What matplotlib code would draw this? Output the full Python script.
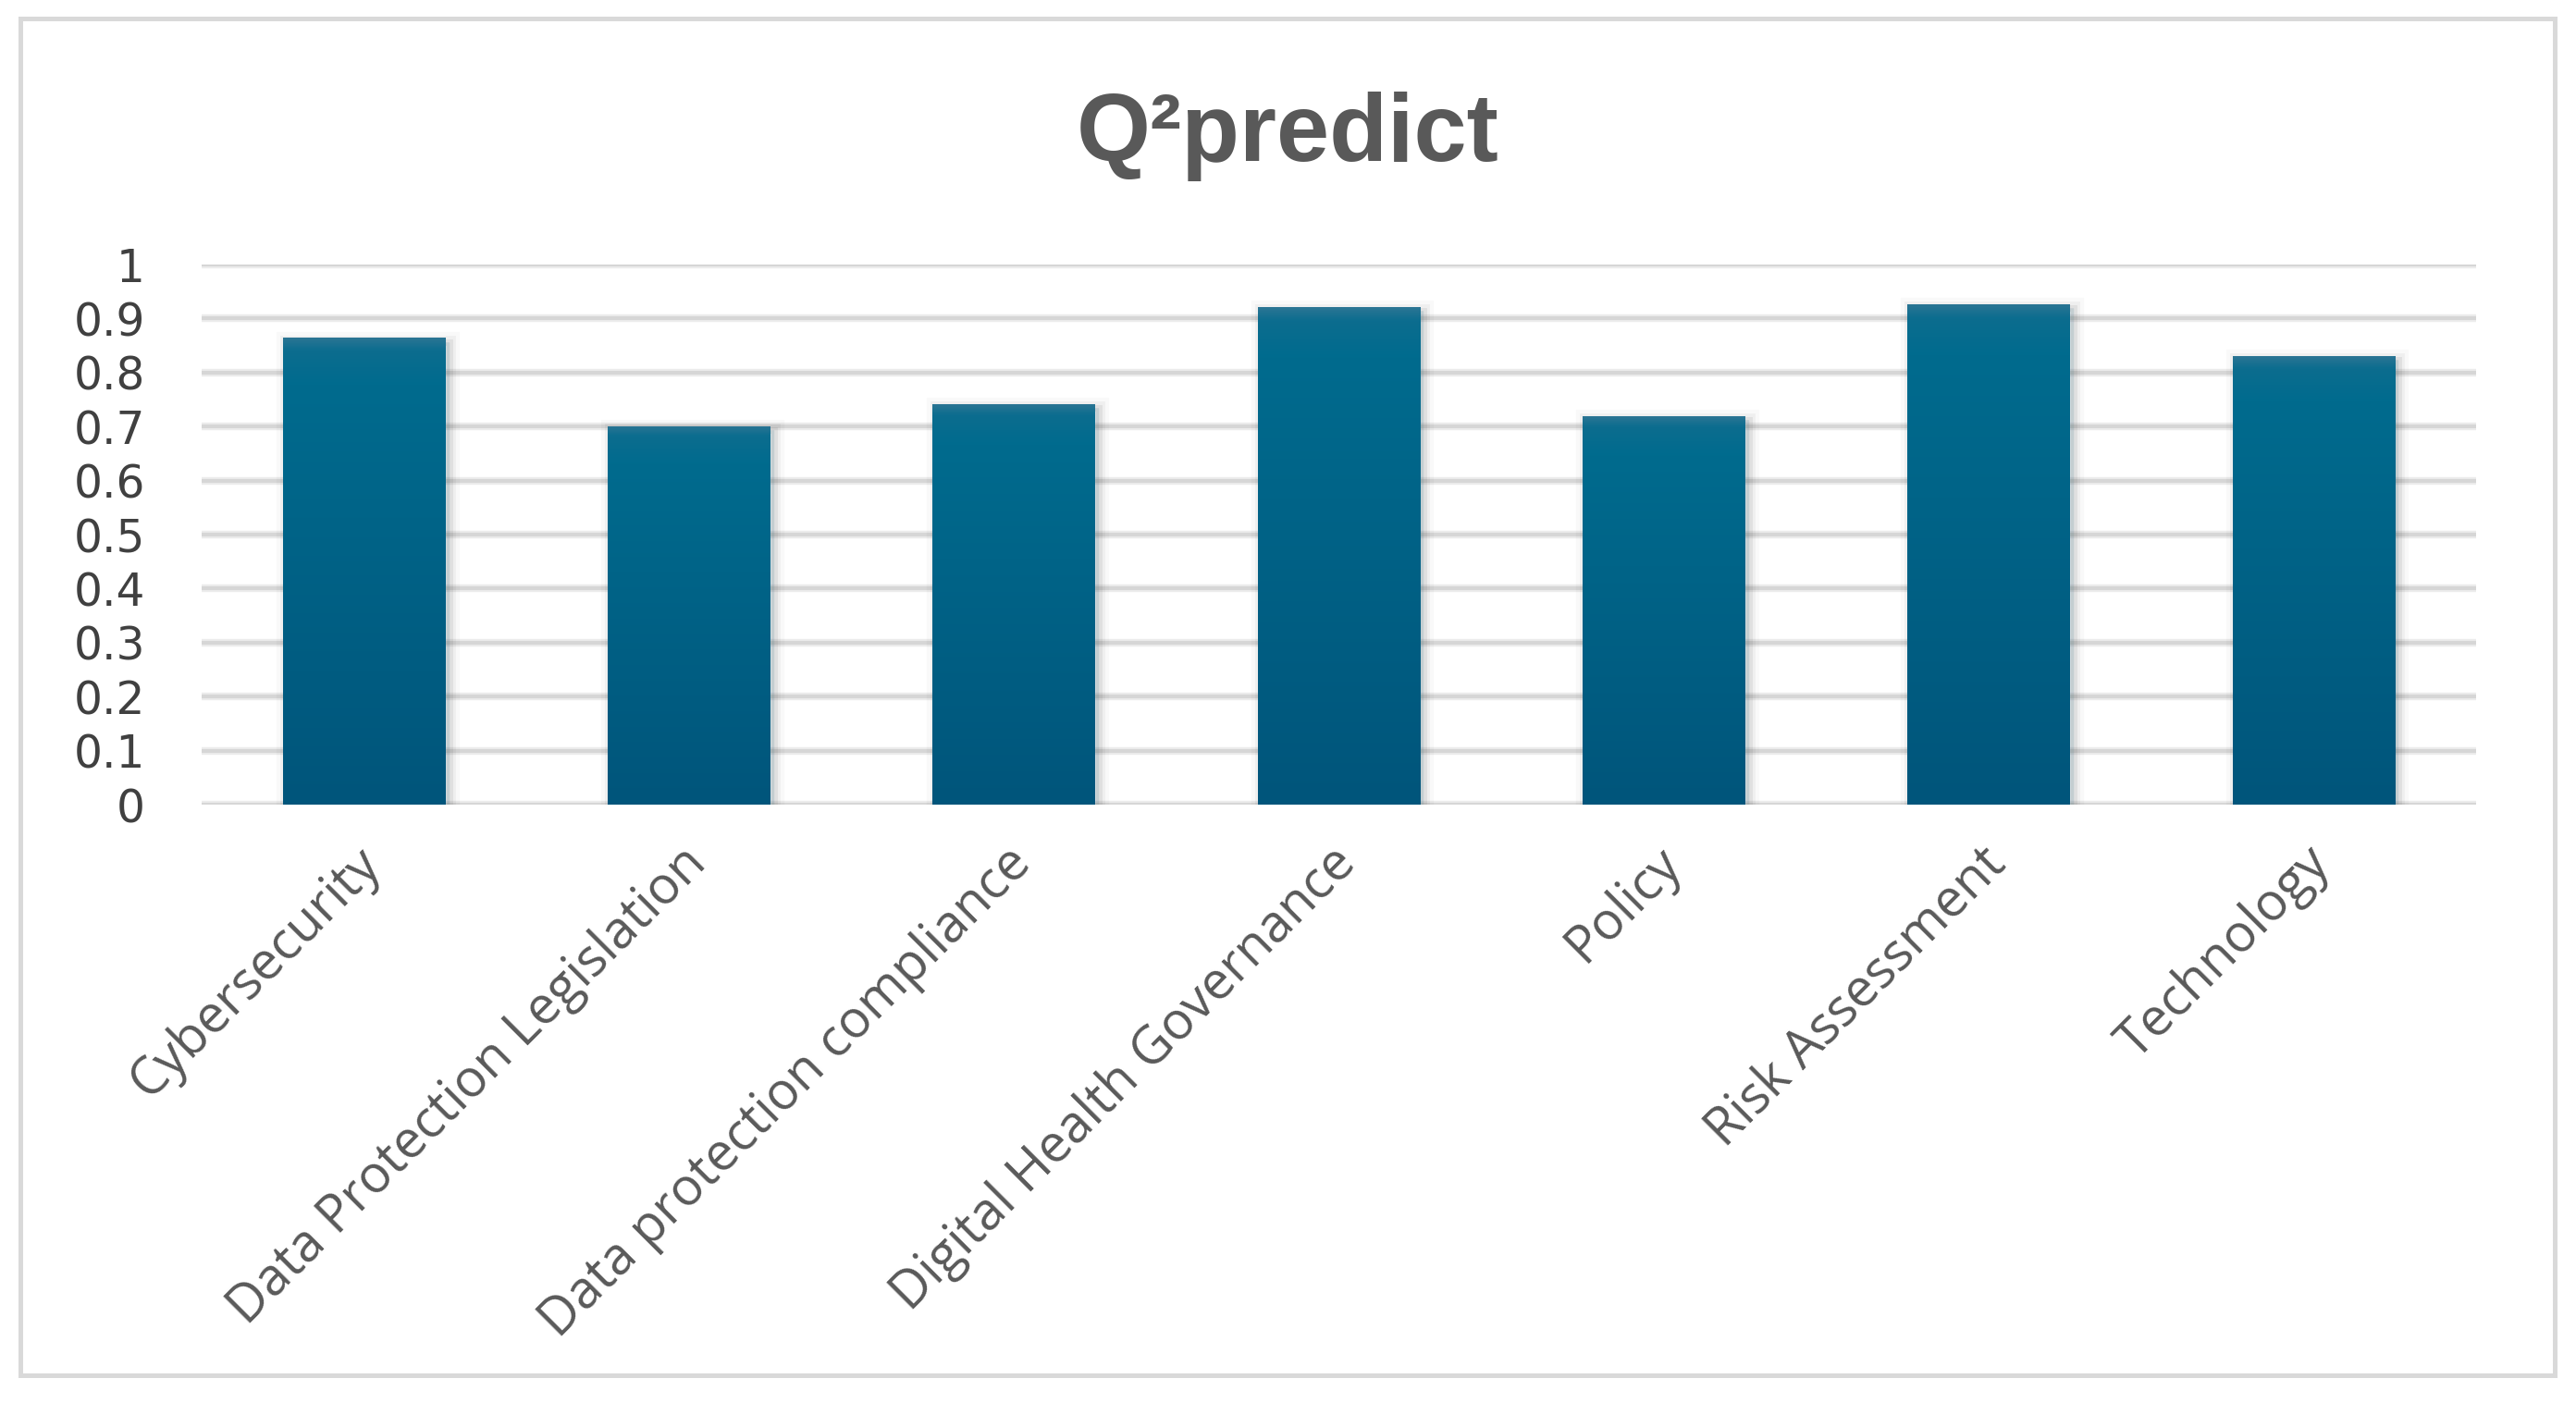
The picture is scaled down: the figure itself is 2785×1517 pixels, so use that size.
import numpy as np
import matplotlib
matplotlib.use("Agg")
import matplotlib.pyplot as plt
import matplotlib.patches as mpatches
import matplotlib.patheffects as pe
import matplotlib.transforms as mtransforms
from matplotlib.colors import LinearSegmentedColormap

categories = ["Cybersecurity", "Data Protection Legislation", "Data protection compliance",
              "Digital Health Governance", "Policy", "Risk Assessment", "Technology"]
values = [0.864, 0.701, 0.741, 0.921, 0.719, 0.926, 0.830]
y_ticks = [0, 0.1, 0.2, 0.3, 0.4, 0.5, 0.6, 0.7, 0.8, 0.9, 1]
y_tick_labels = ["0", "0.1", "0.2", "0.3", "0.4", "0.5", "0.6", "0.7", "0.8", "0.9", "1"]
title = "Q\u00b2predict"

W, H, DPI = 2785, 1517, 100
fig = plt.figure(figsize=(W / DPI, H / DPI), dpi=DPI)
fig.patch.set_facecolor("white")

# outer border
border = mpatches.Rectangle((22 / W, 1 - 1487 / H), (2762 - 22) / W, (1487 - 20) / H,
                            transform=fig.transFigure, fill=False,
                            edgecolor="#d9d9d9", linewidth=3.6)
fig.patches.append(border)

ax = fig.add_axes([218 / W, 1 - 870 / H, (2677 - 218) / W, (870 - 286) / H])
ax.set_xlim(-0.5, len(categories) - 0.5)
ax.set_ylim(0, 1)
for s in ax.spines.values():
    s.set_visible(False)
ax.set_facecolor("none")

# gridlines
for t in y_ticks:
    ax.axhline(t, color="#ececec", linewidth=6.0, zorder=0.5)
    ax.axhline(t, color="#d6d6d6", linewidth=3.0, zorder=0.6)

ax.set_yticks(y_ticks)
ax.set_yticklabels(y_tick_labels, fontsize=35, color="#404040", family="DejaVu Sans")
ax.tick_params(axis="y", length=0, pad=44)

x = np.arange(len(categories))
ax.set_xticks(x)
ax.set_xticklabels(categories, rotation=45, ha="right", va="center",
                   rotation_mode="anchor", fontsize=40.5, color="#595959", family="Open Sans")
ax.tick_params(axis="x", length=0, pad=40)
shift = mtransforms.ScaledTranslation(10 / DPI, 0, fig.dpi_scale_trans)
for lbl in ax.get_xticklabels():
    lbl.set_transform(lbl.get_transform() + shift)

bars = ax.bar(x, values, width=0.5, color="#00577d", zorder=2,
              edgecolor="none")
shadow_effects = [
    pe.Stroke(linewidth=16, foreground="#000000", alpha=0.025, offset=(3, -3)),
    pe.Stroke(linewidth=10, foreground="#000000", alpha=0.04, offset=(3, -3)),
    pe.Stroke(linewidth=5, foreground="#000000", alpha=0.06, offset=(3, -3)),
    pe.Normal(),
]
cmap = LinearSegmentedColormap.from_list(
    "barg", [(0.0, "#2a7594"), (0.025, "#0c6d8f"), (0.1, "#006b8e"), (1.0, "#00557b")])
grad = np.linspace(0, 1, 256).reshape(-1, 1)
for b in bars:
    b.set_path_effects(shadow_effects)
    x0, y0 = b.get_x(), b.get_y()
    w, h = b.get_width(), b.get_height()
    im = ax.imshow(grad, cmap=cmap, aspect="auto", extent=(x0, x0 + w, y0, y0 + h),
                   origin="upper", zorder=3, interpolation="bilinear")
    im.set_clip_path(b)
ax.set_xlim(-0.5, len(categories) - 0.5)
ax.set_ylim(0, 1)

fig.text(1392 / W, 1 - 174 / H, title, ha="center", va="baseline",
         fontsize=74, fontweight="bold", color="#595959", family="Liberation Sans")

fig.savefig("out.png", dpi=DPI, facecolor="white")
